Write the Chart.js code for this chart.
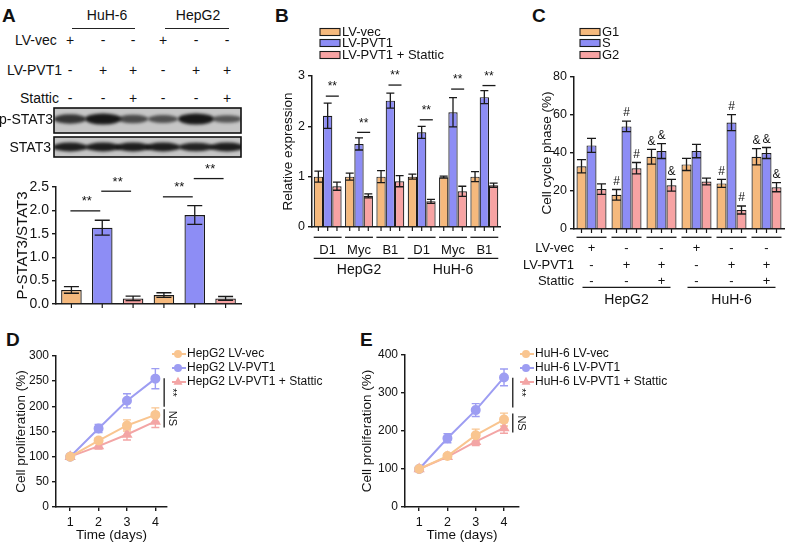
<!DOCTYPE html>
<html>
<head>
<meta charset="utf-8">
<script src="https://cdn.jsdelivr.net/npm/chart.js@4.4.1/dist/chart.umd.min.js"></script>
<style>
  body { margin: 0; background: #fff; width: 786px; height: 544px; position: relative; overflow: hidden;
         font-family: "Liberation Sans", Arial, sans-serif; color: #111; }
  canvas { position: absolute; }
  .t { position: absolute; white-space: nowrap; line-height: 1; }
  .hl { position: absolute; height: 1.3px; background: #222; }
</style>
</head>
<body>
<canvas id="blot" width="190" height="54" style="left:53px;top:106px"></canvas>
<script>
// ---------- data ----------
// A: western blot quantification
const aLabels = ['HuH-6 LV-vec', 'HuH-6 LV-PVT1', 'HuH-6 LV-PVT1+Stattic', 'HepG2 LV-vec', 'HepG2 LV-PVT1', 'HepG2 LV-PVT1+Stattic'];
const aVec = ['+', '-', '-', '+', '-', '-'];
const aPvt = ['-', '+', '+', '-', '+', '+'];
const aSta = ['-', '-', '+', '-', '-', '+'];
const aRatio = [0.30, 1.63, 0.12, 0.19, 1.90, 0.12];
const aRatioErr = [0.07, 0.16, 0.05, 0.05, 0.20, 0.04];
const aSig = [[0, 1, 1.99], [1, 2, 2.41], [3, 4, 2.29], [4, 5, 2.68]];
const pBands = [0.75, 1.0, 0.55, 0.5, 1.0, 0.45];   // p-STAT3 band strength
const sBands = [0.95, 0.95, 0.95, 0.95, 0.9, 0.95]; // STAT3 band strength

// B: relative expression
const bCells = ['HepG2', 'HuH-6'];
const bGenes = ['D1', 'Myc', 'B1'];
const bVec = [1.0, 1.0, 1.0, 1.0, 0.99, 1.0];
const bVecErr = [0.11, 0.07, 0.12, 0.05, 0.02, 0.10];
const bPvt = [2.21, 1.65, 2.51, 1.88, 2.28, 2.58];
const bPvtErr = [0.25, 0.12, 0.15, 0.12, 0.29, 0.13];
const bSta = [0.81, 0.62, 0.91, 0.51, 0.71, 0.83];
const bStaErr = [0.08, 0.04, 0.11, 0.04, 0.10, 0.04];
const bSig = [2.6, 1.88, 2.82, 2.13, 2.74, 2.81];

// C: cell cycle phase
const cCells = ['HepG2', 'HuH-6'];
const cVec = ['+', '-', '-', '+', '-', '-'];
const cPvt = ['-', '+', '+', '-', '+', '+'];
const cSta = ['-', '-', '+', '-', '-', '+'];
const cG1 = [33, 18, 38, 34, 24, 38];
const cG1Err = [3.5, 2.8, 3.9, 3.2, 2.1, 4.3];
const cS = [44, 54, 41, 41, 56, 40];
const cSErr = [3.7, 2.8, 3.9, 3.5, 4.2, 2.9];
const cG2 = [21, 32, 23, 25, 10, 22];
const cG2Err = [2.8, 3.0, 3.1, 1.8, 2.1, 2.4];
const cMarks = ['', '#', '&', '', '#', '&'];

// D / E: proliferation
const days = [1, 2, 3, 4];
const dVec = [100, 132, 162, 183];
const dVecErr = [4, 5, 11, 14];
const dPvt = [100, 156, 211, 255];
const dPvtErr = [4, 8, 14, 20];
const dSta = [100, 121, 144, 170];
const dStaErr = [5, 6, 11, 12];
const dSig = [[256, 199, '**'], [194, 158, 'NS']];
const eVec = [100, 134, 189, 230];
const eVecErr = [6, 6, 16, 17];
const ePvt = [100, 181, 255, 341];
const ePvtErr = [6, 12, 17, 22];
const eSta = [100, 132, 172, 208];
const eStaErr = [6, 6, 10, 14];
const eSig = [[340, 262, '**'], [246, 196, 'NS']];

// ---------- styles ----------
const BAR_OR = '#f5b97d', BAR_BL = '#8d8df5', BAR_PK = '#f7a3a3';
const LN_OR = '#f9c590', LN_BL = '#9d9df2', LN_PK = '#f3a5a5';
const INK = '#1a1a1a';
const FONT = '"Liberation Sans", Arial, sans-serif';

Chart.defaults.font.family = FONT;
Chart.defaults.color = '#111';
Chart.defaults.animation = false;

// ---------- html text helpers ----------
function T(s, x, y, size, anchor, bold) {
  const d = document.createElement('div');
  d.className = 't';
  d.textContent = s;
  d.style.fontSize = size + 'px';
  d.style.left = x + 'px';
  d.style.top = y + 'px';
  if (bold) d.style.fontWeight = 'bold';
  const tx = anchor === 'l' ? '0' : anchor === 'r' ? '-100%' : '-50%';
  d.style.transform = 'translate(' + tx + ',-50%)';
  document.body.appendChild(d);
}
function HL(x0, x1, y) {
  const d = document.createElement('div');
  d.className = 'hl';
  d.style.left = x0 + 'px'; d.style.top = y + 'px'; d.style.width = (x1 - x0) + 'px';
  document.body.appendChild(d);
}

// panel letters
T('A', 2, 15, 19, 'l', true);
T('B', 275, 15, 19, 'l', true);
T('C', 532, 15, 19, 'l', true);
T('D', 6, 339, 19, 'l', true);
T('E', 360, 339, 19, 'l', true);

// panel A header
const lanes = [70, 103, 133, 163, 196, 227];
T('HuH-6', 107, 15, 14);
T('HepG2', 198, 15, 14);
HL(72, 135, 28);
HL(165, 229, 28);
T('LV-vec', 15, 40, 14, 'l');
T('LV-PVT1', 7, 70, 14, 'l');
T('Stattic', 20, 98, 14, 'l');
lanes.forEach((x, i) => {
  T(aVec[i], x, 40, 14);
  T(aPvt[i], x, 70, 14);
  T(aSta[i], x, 98, 14);
});
T('p-STAT3', 53, 119, 14, 'r');
T('STAT3', 51, 147, 14, 'r');

// blot
(function drawBlot() {
  const ctx = document.getElementById('blot').getContext('2d');
  const rows = [{ y0: 2, y1: 27, cy: 13, bands: pBands, h: 11 }, { y0: 31, y1: 51, cy: 41, bands: sBands, h: 9 }];
  rows.forEach(r => {
    ctx.fillStyle = '#c6c6c6';
    ctx.fillRect(1, r.y0, 187, r.y1 - r.y0);
    ctx.save();
    ctx.beginPath(); ctx.rect(1, r.y0, 187, r.y1 - r.y0); ctx.clip();
    ctx.filter = 'blur(1.6px)';
    r.bands.forEach((a, i) => {
      const x = lanes[i] - 53;
      const w = 12 + 6 * a;
      const h = r.h * (0.45 + 0.55 * a);
      ctx.fillStyle = 'rgba(15,15,15,' + (0.35 + 0.6 * a) + ')';
      ctx.beginPath();
      ctx.ellipse(x, r.cy, w, h / 2, 0, 0, Math.PI * 2);
      ctx.fill();
    });
    ctx.restore();
    ctx.strokeStyle = '#111'; ctx.lineWidth = 1.6;
    ctx.strokeRect(1, r.y0, 187, r.y1 - r.y0);
  });
})();

// ---------- chart helpers ----------
function mk(id, L, Tp, W, H, cfg) {
  const c = document.createElement('canvas');
  c.id = id; c.width = W; c.height = H;
  c.style.left = L + 'px'; c.style.top = Tp + 'px';
  c._L = L; c._T = Tp;
  document.body.appendChild(c);
  cfg.options.responsive = false;
  cfg.options.devicePixelRatio = 1;
  return new Chart(c, cfg);
}
function yLin(o) {
  return {
    min: o.min, max: o.max,
    ticks: { stepSize: o.step, font: { size: o.tick }, padding: 3, color: '#111', callback: o.cb },
    grid: { drawOnChartArea: false, color: INK, lineWidth: 1.4, tickLength: 4 },
    border: { color: INK, width: 1.5 },
    title: { display: true, text: o.title, font: { size: o.tsize }, padding: { top: o.tpad, bottom: 0 }, color: '#111' },
    afterFit: s => { s.width = o.width; }
  };
}
function xCat(h) {
  return {
    ticks: { display: false },
    grid: { display: false },
    border: { color: INK, width: 1.5 },
    afterFit: s => { s.height = h; }
  };
}
function line(ctx, x0, y0, x1, y1) {
  ctx.beginPath(); ctx.moveTo(x0, y0); ctx.lineTo(x1, y1); ctx.stroke();
}
function text(ctx, s, x, y, size, align) {
  ctx.font = size + 'px ' + FONT;
  ctx.fillStyle = '#111';
  ctx.textAlign = align || 'center';
  ctx.textBaseline = 'middle';
  ctx.fillText(s, x, y);
}
function drawPt(ctx, style, x, y, r, color) {
  ctx.fillStyle = color;
  ctx.beginPath();
  if (style === 'triangle') {
    ctx.moveTo(x, y - r * 1.15); ctx.lineTo(x + r, y + r * 0.6); ctx.lineTo(x - r, y + r * 0.6); ctx.closePath();
  } else {
    ctx.arc(x, y, r, 0, Math.PI * 2);
  }
  ctx.fill();
}

function drawErrors(chart, o) {
  const ctx = chart.ctx, ys = chart.scales.y;
  ctx.save();
  chart.data.datasets.forEach((ds, di) => {
    if (!ds.err) return;
    const meta = chart.getDatasetMeta(di);
    ctx.strokeStyle = ds.errColor || INK;
    ctx.lineWidth = o.lw || 1.3;
    meta.data.forEach((el, i) => {
      const v = ds.data[i];
      const val = (v && typeof v === 'object') ? v.y : v;
      const e = ds.err[i];
      if (!e) return;
      const top = ys.getPixelForValue(val + e), bot = ys.getPixelForValue(val - e);
      const cw = o.cap || el.width * 0.38;
      ctx.beginPath();
      ctx.moveTo(el.x, top); ctx.lineTo(el.x, bot);
      ctx.moveTo(el.x - cw, top); ctx.lineTo(el.x + cw, top);
      ctx.moveTo(el.x - cw, bot); ctx.lineTo(el.x + cw, bot);
      ctx.stroke();
    });
  });
  ctx.restore();
}
const errorBars = {
  id: 'errorBars',
  beforeDatasetsDraw(chart, args, o) { if (o.behind) drawErrors(chart, o); },
  afterDatasetsDraw(chart, args, o) { if (!o.behind) drawErrors(chart, o); }
};

// tick marks under every bar
function barTicks(chart) {
  const ctx = chart.ctx, yb = chart.chartArea.bottom;
  ctx.strokeStyle = INK; ctx.lineWidth = 1.2;
  chart.data.datasets.forEach((ds, di) => {
    chart.getDatasetMeta(di).data.forEach(el => line(ctx, el.x, yb, el.x, yb + 4));
  });
}
function groupSpan(chart, i) {
  const a = chart.getDatasetMeta(0).data[i];
  const b = chart.getDatasetMeta(chart.data.datasets.length - 1).data[i];
  return [a.x - a.width / 2, b.x + b.width / 2];
}
function boxLegend(chart, x, ys, size) {
  const ctx = chart.ctx, L = chart.canvas._L, Tp = chart.canvas._T;
  chart.data.datasets.forEach((ds, i) => {
    const y = ys[i] - Tp;
    ctx.fillStyle = ds.backgroundColor;
    ctx.fillRect(x - L, y - 3.5, 20, 7);
    ctx.strokeStyle = INK; ctx.lineWidth = 1.1;
    ctx.strokeRect(x - L, y - 3.5, 20, 7);
    text(ctx, ds.label, x - L + 22, y, size, 'left');
  });
}
function lineLegend(chart, x, ys, size) {
  const ctx = chart.ctx, L = chart.canvas._L, Tp = chart.canvas._T;
  chart.data.datasets.forEach((ds, i) => {
    const y = ys[i] - Tp;
    ctx.strokeStyle = ds.borderColor; ctx.lineWidth = 2;
    line(ctx, x - L, y, x - L + 14, y);
    drawPt(ctx, ds.pointStyle, x - L + 6, y, ds.pointRadius, ds.borderColor);
    text(ctx, ds.label, x - L + 15, y, size, 'left');
  });
}
function vSig(chart, xv, list, size) {
  const ctx = chart.ctx, xs = chart.scales.x, ys = chart.scales.y;
  const x = xs.getPixelForValue(xv);
  ctx.strokeStyle = INK; ctx.lineWidth = 1.3;
  list.forEach(([a, b, s]) => {
    const y0 = ys.getPixelForValue(a), y1 = ys.getPixelForValue(b);
    line(ctx, x, y0, x, y1);
    ctx.save();
    ctx.translate(x + 8, (y0 + y1) / 2);
    ctx.rotate(Math.PI / 2);
    text(ctx, s, 0, 0, size);
    ctx.restore();
  });
}

// ---------- A bar chart ----------
const panelA = {
  id: 'panelA',
  afterDraw(chart) {
    const ctx = chart.ctx, ys = chart.scales.y, el = chart.getDatasetMeta(0).data;
    barTicks(chart);
    ctx.strokeStyle = INK; ctx.lineWidth = 1.3;
    aSig.forEach(([i, j, v]) => {
      const y = ys.getPixelForValue(v);
      line(ctx, el[i].x - 1, y, el[j].x - 2, y);
      text(ctx, '**', (el[i].x + el[j].x) / 2, y - 9, 13);
    });
  }
};
mk('cA', 0, 160, 250, 160, {
  type: 'bar',
  data: {
    labels: aLabels,
    datasets: [{
      label: 'P-STAT3/STAT3', data: aRatio, err: aRatioErr,
      backgroundColor: [BAR_OR, BAR_BL, BAR_PK, BAR_OR, BAR_BL, BAR_PK],
      borderColor: INK, borderWidth: 1.3, barPercentage: 0.667, categoryPercentage: 1
    }]
  },
  options: {
    layout: { padding: { left: 0, top: 27, right: 9, bottom: 0 } },
    plugins: { legend: { display: false }, tooltip: { enabled: false }, errorBars: { cap: 7.5 } },
    scales: {
      x: xCat(16),
      y: yLin({ min: 0, max: 2.5, step: 0.5, tick: 14, width: 56, title: 'P-STAT3/STAT3', tsize: 15, tpad: 14,
                cb: v => v.toFixed(1) })
    }
  },
  plugins: [errorBars, panelA]
});

// ---------- B ----------
const bLabels = bCells.flatMap(c => bGenes.map(g => c + ' ' + g));
const panelB = {
  id: 'panelB',
  afterDraw(chart) {
    const ctx = chart.ctx, ys = chart.scales.y, yb = chart.chartArea.bottom, Tp = chart.canvas._T;
    barTicks(chart);
    const bl = chart.getDatasetMeta(1).data, pk = chart.getDatasetMeta(2).data;
    ctx.strokeStyle = INK; ctx.lineWidth = 1.3;
    bSig.forEach((v, i) => {
      const y = ys.getPixelForValue(v);
      const x0 = bl[i].x - bl[i].width * 0.2, x1 = pk[i].x + pk[i].width * 0.2;
      line(ctx, x0, y, x1, y);
      text(ctx, '**', (x0 + x1) / 2, y - 9, 12);
    });
    bLabels.forEach((l, i) => {
      const [a, b] = groupSpan(chart, i);
      line(ctx, a, 237.3 - Tp, b, 237.3 - Tp);
      text(ctx, bGenes[i % 3], (a + b) / 2, 250 - Tp, 13);
    });
    bCells.forEach((c, k) => {
      const a = groupSpan(chart, k * 3)[0], b = groupSpan(chart, k * 3 + 2)[1];
      line(ctx, a, 258.3 - Tp, b, 258.3 - Tp);
      text(ctx, c, (a + b) / 2, 270 - Tp, 14);
    });
    boxLegend(chart, 320, [32, 43, 55], 13);
  }
};
const barDs = (label, data, err, color, cp) => ({
  label, data, err, backgroundColor: color, borderColor: INK, borderWidth: 1.2,
  barPercentage: 1, categoryPercentage: cp
});
mk('cB', 258, 0, 262, 300, {
  type: 'bar',
  data: {
    labels: bLabels,
    datasets: [
      barDs('LV-vec', bVec, bVecErr, BAR_OR, 0.89),
      barDs('LV-PVT1', bPvt, bPvtErr, BAR_BL, 0.89),
      barDs('LV-PVT1 + Stattic', bSta, bStaErr, BAR_PK, 0.89)
    ]
  },
  options: {
    layout: { padding: { left: 0, top: 76, right: 20, bottom: 0 } },
    plugins: { legend: { display: false }, tooltip: { enabled: false }, errorBars: { cap: 4 } },
    scales: {
      x: xCat(73),
      y: yLin({ min: 0, max: 3, step: 1, tick: 12.5, width: 54, title: 'Relative expression', tsize: 13.5, tpad: 22 })
    }
  },
  plugins: [errorBars, panelB]
});

// ---------- C ----------
const cLabels = cCells.flatMap(c => [c + ' vec', c + ' PVT1', c + ' PVT1+Stattic']);
const panelC = {
  id: 'panelC',
  afterDraw(chart) {
    const ctx = chart.ctx, ys = chart.scales.y, Tp = chart.canvas._T, L = chart.canvas._L;
    barTicks(chart);
    chart.data.datasets.forEach((ds, di) => {
      chart.getDatasetMeta(di).data.forEach((el, i) => {
        if (!cMarks[i]) return;
        const y = ys.getPixelForValue(ds.data[i] + ds.err[i]);
        text(ctx, cMarks[i], el.x, y - 8, 12);
      });
    });
    ctx.strokeStyle = INK; ctx.lineWidth = 1.3;
    const rows = [['LV-vec', cVec, 248.3], ['LV-PVT1', cPvt, 265], ['Stattic', cSta, 281.7]];
    rows.forEach(([lab, signs, y]) => text(ctx, lab, 574 - L, y - Tp, 13, 'right'));
    cLabels.forEach((l, i) => {
      const [a, b] = groupSpan(chart, i);
      line(ctx, a, 237.3 - Tp, b, 237.3 - Tp);
      rows.forEach(([lab, signs, y]) => text(ctx, signs[i], (a + b) / 2, y - Tp, 13));
    });
    cCells.forEach((c, k) => {
      const a = groupSpan(chart, k * 3)[0] + 6, b = groupSpan(chart, k * 3 + 2)[1] - 6;
      line(ctx, a, 287.3 - Tp, b, 287.3 - Tp);
      text(ctx, c, (a + b) / 2, 300 - Tp, 14);
    });
    boxLegend(chart, 580, [32, 43, 55], 13);
  }
};
mk('cC', 520, 0, 266, 310, {
  type: 'bar',
  data: {
    labels: cLabels,
    datasets: [
      barDs('G1', cG1, cG1Err, BAR_OR, 0.857),
      barDs('S', cS, cSErr, BAR_BL, 0.857),
      barDs('G2', cG2, cG2Err, BAR_PK, 0.857)
    ]
  },
  options: {
    layout: { padding: { left: 0, top: 77, right: 2, bottom: 0 } },
    plugins: { legend: { display: false }, tooltip: { enabled: false }, errorBars: { cap: 4.5 } },
    scales: {
      x: xCat(81),
      y: yLin({ min: 0, max: 80, step: 20, tick: 12.5, width: 54, title: 'Cell cycle phase (%)', tsize: 13.5, tpad: 19 })
    }
  },
  plugins: [errorBars, panelC]
});

// ---------- D / E ----------
const pts = arr => days.map((d, i) => ({ x: d, y: arr[i] }));
const lineDs = (label, arr, err, color, style, r) => ({
  label, data: pts(arr), err, errColor: color, borderColor: color, backgroundColor: color,
  pointBackgroundColor: color, pointBorderColor: color, pointStyle: style, pointRadius: r,
  borderWidth: 2, tension: 0
});
function lineCfg(L, datasets, ymax, ystep, xmax, yw, tpad, pr, sig, legX) {
  return {
    type: 'line',
    data: { datasets },
    options: {
      layout: { padding: { left: 0, top: 356 - 320 - (L ? 1 : 0), right: pr, bottom: 0 } },
      plugins: { legend: { display: false }, tooltip: { enabled: false }, errorBars: { cap: 4, behind: true, lw: 1.4 } },
      scales: {
        x: {
          type: 'linear', min: 0.5, max: xmax,
          afterBuildTicks: s => { s.ticks = days.map(v => ({ value: v })); },
          ticks: { font: { size: 12.5 }, padding: 4, color: '#111' },
          grid: { drawOnChartArea: false, color: INK, lineWidth: 1.4, tickLength: 4 },
          border: { color: INK, width: 1.5 },
          title: { display: true, text: 'Time (days)', font: { size: 13.5 }, padding: { top: 0, bottom: 1 }, color: '#111' },
          afterFit: s => { s.height = 37; }
        },
        y: yLin({ min: 0, max: ymax, step: ystep, tick: 12, width: yw, title: 'Cell proliferation (%)', tsize: 13.5, tpad: tpad })
      }
    },
    plugins: [errorBars, {
      id: 'lineExtras',
      afterDraw(chart) {
        vSig(chart, 4.31, sig, 11);
        lineLegend(chart, legX, [354, 368, 382], 12);
      }
    }]
  };
}
mk('cD', 0, 320, 355, 224, lineCfg(0, [
  lineDs('HepG2 LV-vec', dVec, dVecErr, LN_OR, 'circle', 4),
  lineDs('HepG2 LV-PVT1', dPvt, dPvtErr, LN_BL, 'circle', 4),
  lineDs('HepG2 LV-PVT1 + Stattic', dSta, dStaErr, LN_PK, 'triangle', 4.5)
], 300, 50, 4.41, 56, 13, 188, dSig, 172));
mk('cE', 355, 320, 431, 224, lineCfg(355, [
  lineDs('HuH-6 LV-vec', eVec, eVecErr, LN_OR, 'circle', 4),
  lineDs('HuH-6 LV-PVT1', ePvt, ePvtErr, LN_BL, 'circle', 4),
  lineDs('HuH-6 LV-PVT1 + Stattic', eSta, eStaErr, LN_PK, 'triangle', 4.5)
], 400, 100, 4.53, 50, 4, 267, eSig, 520));
</script>
</body>
</html>
